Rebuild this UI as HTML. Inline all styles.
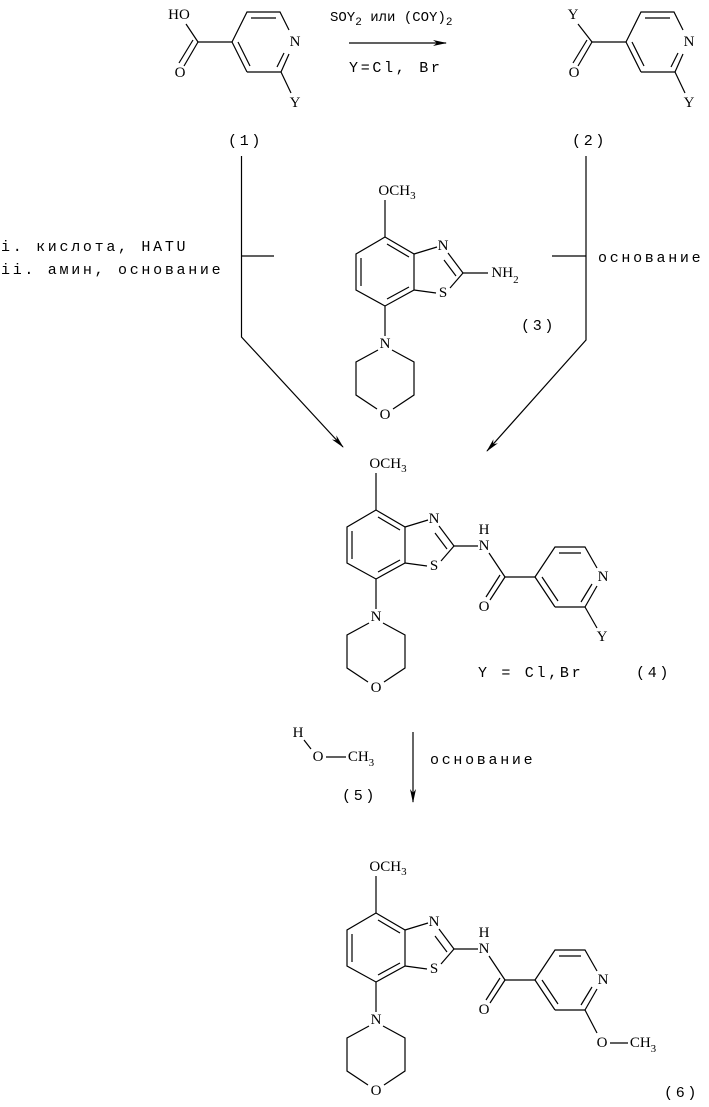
<!DOCTYPE html>
<html><head><meta charset="utf-8"><style>
html,body{margin:0;padding:0;background:#fff;}
svg{display:block;}
.a{font-family:"Liberation Serif",serif;font-size:15px;text-anchor:middle;dominant-baseline:central;fill:#000;}
.m{font-family:"Liberation Mono",monospace;font-size:15px;fill:#000;letter-spacing:2.7px;}
.t{font-family:"Liberation Mono",monospace;font-size:14px;fill:#000;letter-spacing:0px;}
.s{font-size:11px;}
line,polyline{stroke:#000;stroke-width:1.2;fill:none;}
</style></head><body>
<svg width="709" height="1107" viewBox="0 0 709 1107" xmlns="http://www.w3.org/2000/svg">
<defs><marker id="ah" markerWidth="14" markerHeight="8" refX="13" refY="4" orient="auto" markerUnits="userSpaceOnUse"><path d="M0,1 L14,4 L0,7 L4,4 Z" fill="#000"/></marker></defs>

<!-- Compound 1 -->
<g>
<text class="a" x="179" y="15">HO</text>
<line x1="186" y1="24" x2="198" y2="42"/>
<line x1="198" y1="42" x2="184" y2="66"/><line x1="193" y1="40" x2="179" y2="63"/>
<text class="a" x="180" y="73">O</text>
<line x1="198" y1="42" x2="232" y2="42"/>
<polyline points="232,42 247,12 280,12 289,30"/>
<line x1="251" y1="18" x2="276" y2="18"/>
<line x1="232" y1="42" x2="247" y2="72"/><line x1="238" y1="42" x2="250" y2="66"/>
<line x1="247" y1="72" x2="281" y2="72"/>
<line x1="289" y1="54" x2="281" y2="72"/><line x1="284" y1="53" x2="277" y2="67"/>
<text class="a" x="295" y="42">N</text>
<line x1="281" y1="72" x2="291" y2="93"/>
<text class="a" x="295" y="103">Y</text>
</g>
<!-- Compound 2 -->
<g transform="translate(394,0)">
<text class="a" x="179" y="15">Y</text>
<line x1="184" y1="24" x2="198" y2="42"/>
<line x1="198" y1="42" x2="184" y2="66"/><line x1="193" y1="40" x2="179" y2="63"/>
<text class="a" x="180" y="73">O</text>
<line x1="198" y1="42" x2="232" y2="42"/>
<polyline points="232,42 247,12 280,12 289,30"/>
<line x1="251" y1="18" x2="276" y2="18"/>
<line x1="232" y1="42" x2="247" y2="72"/><line x1="238" y1="42" x2="250" y2="66"/>
<line x1="247" y1="72" x2="281" y2="72"/>
<line x1="289" y1="54" x2="281" y2="72"/><line x1="284" y1="53" x2="277" y2="67"/>
<text class="a" x="295" y="42">N</text>
<line x1="281" y1="72" x2="291" y2="93"/>
<text class="a" x="295" y="103">Y</text>
</g>

<!-- top arrow -->
<text class="t" x="330" y="21">SOY<tspan class="s" dy="4">2</tspan><tspan dy="-4"> или (COY)</tspan><tspan class="s" dy="4">2</tspan></text>
<line x1="349" y1="43" x2="446" y2="43" marker-end="url(#ah)"/>
<text class="m" x="349" y="72">Y=Cl, Br</text>

<text class="m" x="228" y="145">(1)</text>
<text class="m" x="572" y="145">(2)</text>

<!-- left path -->
<polyline points="241.5,156 241.5,337 343,447" marker-end="url(#ah)"/>
<line x1="241.5" y1="256" x2="274" y2="256"/>
<text class="m" x="1" y="251">i. кислота, HATU</text>
<text class="m" x="1" y="274">ii. амин, основание</text>
<!-- right path -->
<polyline points="586,156 586,340 487,451" marker-end="url(#ah)"/>
<line x1="552" y1="256" x2="586" y2="256"/>
<text class="m" x="598" y="262">основание</text>

<!-- Compound 3 -->
<g transform="translate(9,-273)">
<text class="a" x="388" y="464">OCH<tspan class="s" dy="5">3</tspan></text>
<line x1="376" y1="473" x2="376" y2="510"/>
<polyline points="376,510 405,527 405,563 376,579 347,563 347,527 376,510"/>
<line x1="378" y1="517" x2="400" y2="530"/><line x1="352" y1="531" x2="352" y2="559"/><line x1="400" y1="560" x2="378" y2="572"/>
<line x1="405" y1="527" x2="428" y2="520"/>
<text class="a" x="434" y="519">N</text>
<line x1="439" y1="526" x2="454" y2="546"/><line x1="435" y1="533" x2="447" y2="549"/>
<line x1="454" y1="546" x2="441" y2="561"/>
<text class="a" x="434" y="566">S</text>
<line x1="405" y1="563" x2="427" y2="566"/>
<line x1="454" y1="546" x2="479" y2="546"/>
<text class="a" x="496" y="546">NH<tspan class="s" dy="7">2</tspan></text>
<line x1="376" y1="579" x2="376" y2="609"/>
<text class="a" x="376" y="617">N</text>
<polyline points="369,623 347,635 347,668 368,682"/>
<text class="a" x="376" y="688">O</text>
<polyline points="384,682 405,668 405,635 383,623"/>
</g>
<text class="m" x="521" y="330">(3)</text>

<!-- Compound 4 -->
<g>
<text class="a" x="388" y="464">OCH<tspan class="s" dy="5">3</tspan></text>
<line x1="376" y1="473" x2="376" y2="510"/>
<polyline points="376,510 405,527 405,563 376,579 347,563 347,527 376,510"/>
<line x1="378" y1="517" x2="400" y2="530"/><line x1="352" y1="531" x2="352" y2="559"/><line x1="400" y1="560" x2="378" y2="572"/>
<line x1="405" y1="527" x2="428" y2="520"/>
<text class="a" x="434" y="519">N</text>
<line x1="439" y1="526" x2="454" y2="546"/><line x1="435" y1="533" x2="447" y2="549"/>
<line x1="454" y1="546" x2="441" y2="561"/>
<text class="a" x="434" y="566">S</text>
<line x1="405" y1="563" x2="427" y2="566"/>
<line x1="454" y1="546" x2="478" y2="546"/>
<text class="a" x="484" y="546">N</text>
<text class="a" x="484" y="530">H</text>
<line x1="489" y1="553" x2="505" y2="577"/>
<line x1="505" y1="577" x2="490" y2="600"/><line x1="500" y1="575" x2="486" y2="597"/>
<text class="a" x="484" y="607">O</text>
<line x1="505" y1="577" x2="535" y2="577"/>
<polyline points="535,577 555,547 585,547 597,568"/>
<line x1="559" y1="553" x2="581" y2="553"/>
<line x1="535" y1="577" x2="555" y2="607"/><line x1="542" y1="577" x2="558" y2="601"/>
<line x1="555" y1="607" x2="585" y2="607"/>
<line x1="597" y1="586" x2="585" y2="607"/><line x1="592" y1="584" x2="581" y2="602"/>
<text class="a" x="603" y="577">N</text>
<line x1="585" y1="607" x2="597" y2="628"/>
<text class="a" x="602" y="637">Y</text>
<line x1="376" y1="579" x2="376" y2="609"/>
<text class="a" x="376" y="617">N</text>
<polyline points="369,623 347,635 347,668 368,682"/>
<text class="a" x="376" y="688">O</text>
<polyline points="384,682 405,668 405,635 383,623"/>
</g>
<text class="m" x="478" y="677">Y = Cl,Br</text>
<text class="m" x="636" y="677">(4)</text>

<!-- step 5 -->
<text class="a" x="298" y="733">H</text>
<line x1="304" y1="740" x2="311" y2="749"/>
<text class="a" x="318" y="757">O</text>
<line x1="326" y1="757" x2="346" y2="757"/>
<text class="a" x="361" y="757">CH<tspan class="s" dy="6">3</tspan></text>
<text class="m" x="342" y="800">(5)</text>
<line x1="413" y1="732" x2="413" y2="802" marker-end="url(#ah)"/>
<text class="m" x="430" y="764">основание</text>

<!-- Compound 6 -->
<g transform="translate(0,403)">
<text class="a" x="388" y="464">OCH<tspan class="s" dy="5">3</tspan></text>
<line x1="376" y1="473" x2="376" y2="510"/>
<polyline points="376,510 405,527 405,563 376,579 347,563 347,527 376,510"/>
<line x1="378" y1="517" x2="400" y2="530"/><line x1="352" y1="531" x2="352" y2="559"/><line x1="400" y1="560" x2="378" y2="572"/>
<line x1="405" y1="527" x2="428" y2="520"/>
<text class="a" x="434" y="519">N</text>
<line x1="439" y1="526" x2="454" y2="546"/><line x1="435" y1="533" x2="447" y2="549"/>
<line x1="454" y1="546" x2="441" y2="561"/>
<text class="a" x="434" y="566">S</text>
<line x1="405" y1="563" x2="427" y2="566"/>
<line x1="454" y1="546" x2="478" y2="546"/>
<text class="a" x="484" y="546">N</text>
<text class="a" x="484" y="530">H</text>
<line x1="489" y1="553" x2="505" y2="577"/>
<line x1="505" y1="577" x2="490" y2="600"/><line x1="500" y1="575" x2="486" y2="597"/>
<text class="a" x="484" y="607">O</text>
<line x1="505" y1="577" x2="535" y2="577"/>
<polyline points="535,577 555,547 585,547 597,568"/>
<line x1="559" y1="553" x2="581" y2="553"/>
<line x1="535" y1="577" x2="555" y2="607"/><line x1="542" y1="577" x2="558" y2="601"/>
<line x1="555" y1="607" x2="585" y2="607"/>
<line x1="597" y1="586" x2="585" y2="607"/><line x1="592" y1="584" x2="581" y2="602"/>
<text class="a" x="603" y="577">N</text>
<line x1="585" y1="607" x2="597" y2="630"/>
<text class="a" x="602" y="640">O</text>
<line x1="610" y1="640" x2="628" y2="640"/>
<text class="a" x="643" y="640">CH<tspan class="s" dy="6">3</tspan></text>
<line x1="376" y1="579" x2="376" y2="609"/>
<text class="a" x="376" y="617">N</text>
<polyline points="369,623 347,635 347,668 368,682"/>
<text class="a" x="376" y="688">O</text>
<polyline points="384,682 405,668 405,635 383,623"/>
</g>
<text class="m" x="664" y="1097">(6)</text>
</svg>
</body></html>
